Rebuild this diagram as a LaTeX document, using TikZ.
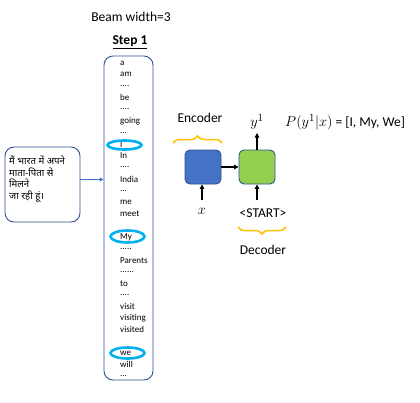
\documentclass[tikz,border=0pt]{standalone}
\usepackage{fontspec}
\setmainfont{Carlito}
\newfontfamily\hindi[Script=Devanagari]{Noto Sans}
\usetikzlibrary{decorations.pathreplacing,arrows.meta}
\definecolor{boxblue}{HTML}{2F528F}
\definecolor{encblue}{HTML}{4472C4}
\definecolor{decgreen}{HTML}{92D050}
\definecolor{ringcyan}{HTML}{00B0F0}
\definecolor{braceyel}{HTML}{FFC000}
\newcommand\pp{.}
\begin{document}
\begin{tikzpicture}[x=1pt,y=-1pt,
  big/.style={font=\fontsize{13.5}{16}\selectfont, inner sep=0pt},
  mth/.style={font=\fontsize{15}{17}\selectfont, inner sep=0pt},
  word/.style={font=\fontsize{9}{11}\selectfont, anchor=west, inner sep=0pt},
  ring/.style={draw=ringcyan, line width=2.6pt},
  panel/.style={draw=boxblue, line width=0.9pt, rounded corners=9pt},
  block/.style={draw=boxblue, line width=0.9pt, rounded corners=5pt, minimum width=36pt, minimum height=34pt, inner sep=0pt},
  arr/.style={line width=1.5pt, -{Triangle[length=4.5pt,width=4.5pt]}},
  brc/.style={draw=braceyel, line width=1.5pt, decorate, decoration={brace, amplitude=7pt}}
]
\useasboundingbox[fill=white] (0,0) rectangle (420,402);

\node[big] (beam) at (131,17) {Beam width=3};
\node[big, font=\fontsize{13.5}{16}\selectfont\bfseries] (step) at (130,42) {\underline{Step 1}};

% list panel
\node[panel, minimum width=49pt, minimum height=324pt, inner sep=0pt] (lbox) at (128.5,218) {};

\foreach \i/\w in {0/a,1/am,2/\pp\pp\pp\pp,3/be,4/\pp\pp\pp\pp,5/going,6/\pp\pp\pp,7/I,8/In,9/\pp\pp\pp\pp,10/India,11/\pp\pp\pp,12/me,13/meet,15/My,16/\pp\pp\pp\pp\pp,17/Parents,18/\pp\pp\pp\pp\pp\pp,19/to,20/\pp\pp\pp\pp,21/visit,22/visiting,23/visited,25/we,26/will,27/\pp\pp\pp}
  \node[word] (w\i) at (120, 63+\i*11.6) {\w};

\draw[ring] (124.5,145) ellipse (17pt and 4.5pt);
\draw[ring] (127.5,236.5) ellipse (17pt and 6pt);
\draw[ring] (127.5,353) ellipse (17pt and 5.5pt);

% hindi box
\node[panel, minimum width=75pt, minimum height=75pt, inner sep=0pt] (hbox) at (42.5,184.5) {};
\node[anchor=north west, align=left, inner sep=0pt, font=\hindi\fontsize{9.6}{11.5}\selectfont] (htext) at (9,156)
  {मैं भारत में अपने\\माता-पिता से\\मिलने\\जा रही हूं।};
\draw[draw=encblue, line width=1.2pt, -{Triangle[length=4pt,width=4pt]}] ([yshift=5pt]hbox.east) -- ([yshift=5pt]hbox.east -| lbox.west);

% encoder / decoder
\node[block, fill=encblue] (enc) at (203,167) {};
\node[block, fill=decgreen] (dec) at (257,167) {};
\draw[arr] (enc.east) -- (dec.west);

\node[mth] (x) at (202,211) {$x$};
\draw[arr] (x.north |- 0,200) -- (x.north |- enc.south);

\node[big] (start) at (263,213) {<START>};
\draw[arr] (dec.south |- 0,200) -- (dec.south);

\node[mth] (y1) at (257,122) {$y^1$};
\draw[arr] (dec.north) -- (dec.north |- 0,133);

\node[big] (enclab) at (200,118) {Encoder};
\coordinate (eb1) at (173,143);
\coordinate (eb2) at (222,143);
\draw[brc] (eb1) -- (eb2);

\node[big] (declab) at (263,250) {Decoder};
\coordinate (db1) at (286,227);
\coordinate (db2) at (238,227);
\draw[brc] (db1) -- (db2);

\node[big, anchor=west] (prob) at (285,122) {{\fontsize{15}{17}\selectfont$P(y^1|x)$} = [I, My, We]};
\end{tikzpicture}
\end{document}
